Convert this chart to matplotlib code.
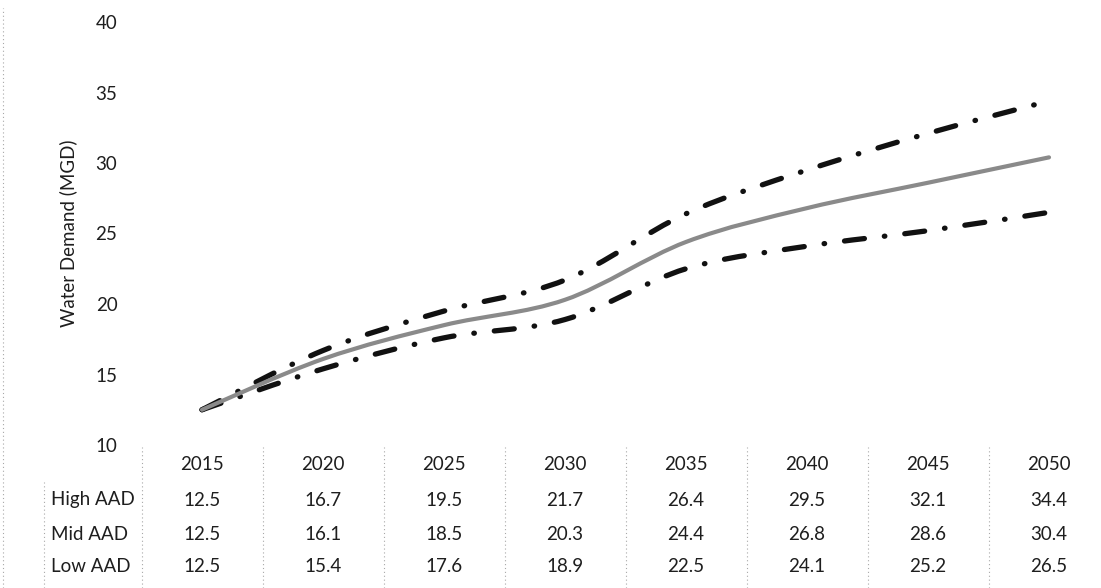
import matplotlib.pyplot as plt
import numpy as np
from matplotlib.path import Path
from matplotlib.patches import PathPatch
from matplotlib.transforms import blended_transform_factory

plt.rcParams['font.family'] = ['Lato', 'DejaVu Sans']

years = ["2015", "2020", "2025", "2030", "2035", "2040", "2045", "2050"]
high_aad = [12.5, 16.7, 19.5, 21.7, 26.4, 29.5, 32.1, 34.4]
mid_aad = [12.5, 16.1, 18.5, 20.3, 24.4, 26.8, 28.6, 30.4]
low_aad = [12.5, 15.4, 17.6, 18.9, 22.5, 24.1, 25.2, 26.5]
row_names = ["High AAD", "Mid AAD", "Low AAD"]

W, H = 1101, 588
FS = 13.5
TXT = '#1e1e1e'
fig = plt.figure(figsize=(W / 100, H / 100), dpi=100)

# plot area in pixels: category i sits at x = 202 + 121*i, y 10..40 spans 445..22
left_px, right_px = 141, 1101
ax = fig.add_axes([left_px / W, 1 - 445 / H, (right_px - left_px) / W, (445 - 22) / H])
ax.set_xlim((left_px - 202) / 121, (right_px - 202) / 121)
ax.set_ylim(10, 40)
ax.set_yticks(range(10, 41, 5))
ax.set_xticks([])
ax.tick_params(axis='y', length=0, pad=17, labelsize=FS, labelcolor=TXT)
for s in ax.spines.values():
    s.set_visible(False)
ax.set_ylabel("Water Demand (MGD)", fontsize=FS, color=TXT, labelpad=13)


def smooth_path(xs, ys):
    # Bezier segments through the points, like a spreadsheet "smoothed line"
    pts = np.column_stack([xs, ys]).astype(float)
    verts = [pts[0]]
    codes = [Path.MOVETO]
    n = len(pts)
    for k in range(n - 1):
        p0 = pts[k - 1] if k > 0 else pts[k]
        p1, p2 = pts[k], pts[k + 1]
        p3 = pts[k + 2] if k + 2 < n else pts[k + 1]
        c1 = p1 + (p2 - p0) / 6
        c2 = p2 - (p3 - p1) / 6
        verts += [c1, c2, p2]
        codes += [Path.CURVE4] * 3
    return Path(verts, codes)


x = np.arange(len(years))
dashdot = (0, (3.8, 3.8, 0.1, 3.8))
for vals, color, ls, lw in [(high_aad, '#111111', dashdot, 3.8),
                            (low_aad, '#111111', dashdot, 3.8),
                            (mid_aad, '#8a8a8a', '-', 3.0)]:
    patch = PathPatch(smooth_path(x, vals), fill=False, edgecolor=color,
                      linewidth=lw, linestyle=ls, capstyle='round', joinstyle='round')
    ax.add_patch(patch)

# data table under the chart
tr = blended_transform_factory(ax.transData, fig.transFigure)
row_y = [1 - 500 / H, 1 - 534 / H, 1 - 567 / H]
for i, yr in enumerate(years):
    ax.text(i, 1 - 464 / H, yr, transform=tr, ha='center', va='center',
            fontsize=FS, color=TXT, clip_on=False)
for r, vals in enumerate([high_aad, mid_aad, low_aad]):
    fig.text(51 / W, row_y[r], row_names[r], ha='left', va='center',
             fontsize=FS, color=TXT)
    for i, v in enumerate(vals):
        ax.text(i, row_y[r], f"{v:.1f}", transform=tr, ha='center', va='center',
                fontsize=FS, color=TXT, clip_on=False)

# faint dotted cell borders
for i in range(len(years)):
    ax.plot([i - 0.5, i - 0.5], [0, 1 - 447 / H], transform=tr, color='#a8a8a8',
            lw=0.8, ls=(0, (1, 2.5)), clip_on=False)
fig.add_artist(plt.Line2D([44 / W, 44 / W], [0, 1 - 482 / H], color='#a8a8a8',
                          lw=0.8, ls=(0, (1, 2.5))))
fig.add_artist(plt.Line2D([3 / W, 3 / W], [0, 1 - 8 / H], color='#a8a8a8',
                          lw=0.8, ls=(0, (1, 2.5))))

fig.savefig("out.png", dpi=100, facecolor='white')
